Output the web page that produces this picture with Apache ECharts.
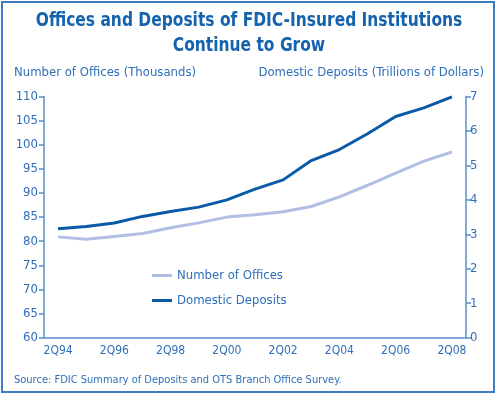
<!DOCTYPE html>
<html>
<head>
<meta charset="utf-8">
<script src="https://cdn.jsdelivr.net/npm/echarts@6.0.0/dist/echarts.min.js"></script>
<style>
  html, body { margin: 0; padding: 0; background: #fff; }
  #chart { width: 497px; height: 399px; }
</style>
</head>
<body>
<div id="chart"></div>
<script>
// 数据
const years = ['2Q94', '2Q95', '2Q96', '2Q97', '2Q98', '2Q99', '2Q00', '2Q01',
               '2Q02', '2Q03', '2Q04', '2Q05', '2Q06', '2Q07', '2Q08'];
const offices = [80.9, 80.4, 81.0, 81.6, 82.8, 83.8, 85.0, 85.5, 86.1, 87.2, 89.2, 91.6, 94.1, 96.6, 98.5];
const deposits = [3.16, 3.23, 3.33, 3.52, 3.66, 3.79, 4.00, 4.31, 4.58, 5.14, 5.46, 5.92, 6.42, 6.67, 6.99];

const font = '"DejaVu Sans Condensed", "Roboto", sans-serif';
const textColor = '#2f6fb8';
const axisColor = '#5a8fcb';

const chart = echarts.init(document.getElementById('chart'));
chart.setOption({
    backgroundColor: '#fff',
    textStyle: { fontFamily: font },
    legend: {
        orient: 'vertical', left: 147, top: 264,
        itemWidth: 20, itemHeight: 3, itemGap: 12, icon: 'rect',
        textStyle: { fontFamily: font, fontSize: 13, color: textColor },
        data: ['Number of Offices', 'Domestic Deposits']
    },
    grid: { left: 44, right: 31, top: 96.5, bottom: 61.3 },
    xAxis: {
        type: 'category', data: years, boundaryGap: true,
        axisLine: { lineStyle: { color: axisColor, width: 1.5 } },
        axisTick: { inside: true, length: 5, interval: 0, lineStyle: { color: axisColor, width: 1.5 } },
        axisLabel: { interval: 1, color: textColor, fontSize: 12, margin: 7, fontFamily: font }
    },
    yAxis: [{
        type: 'value', min: 60, max: 110, interval: 5,
        axisLine: { show: true, lineStyle: { color: axisColor, width: 1.5 } },
        axisTick: { show: true, length: 5, lineStyle: { color: axisColor, width: 1.5 } },
        axisLabel: { color: textColor, fontSize: 13, margin: 6, fontFamily: font },
        splitLine: { show: false }
    }, {
        type: 'value', min: 0, max: 7, interval: 1, position: 'right',
        axisLine: { show: true, lineStyle: { color: axisColor, width: 1.5 } },
        axisTick: { show: true, length: 5, lineStyle: { color: axisColor, width: 1.5 } },
        axisLabel: { color: textColor, fontSize: 13, margin: 4, fontFamily: font },
        splitLine: { show: false }
    }],
    series: [{
        name: 'Number of Offices', type: 'line', yAxisIndex: 0, data: offices,
        symbol: 'none', itemStyle: { color: '#b2bfe4' }, lineStyle: { width: 3, color: '#b2bfe4' }
    }, {
        name: 'Domestic Deposits', type: 'line', yAxisIndex: 1, data: deposits,
        symbol: 'none', itemStyle: { color: '#0b5aa8' }, lineStyle: { width: 3, color: '#0b5aa8' }
    }],
    graphic: [
        { type: 'rect', shape: { x: 2, y: 2, width: 492, height: 390 },
          style: { fill: 'none', stroke: '#3d7cc3', lineWidth: 2 }, silent: true },
        // 标题：字体较宽，横向压缩模拟窄体
        { type: 'text', x: 249, y: 8, scaleX: 0.86, originX: 0,
          style: { text: 'Offices and Deposits of FDIC-Insured Institutions\nContinue to Grow',
                   align: 'center', fontFamily: font, fontSize: 20, fontWeight: 'bold',
                   fill: '#1563ad', lineHeight: 25 } },
        { type: 'text', left: 14, top: 66,
          style: { text: 'Number of Offices (Thousands)', fontFamily: font, fontSize: 13, fill: textColor } },
        { type: 'text', right: 13, top: 66,
          style: { text: 'Domestic Deposits (Trillions of Dollars)', fontFamily: font, fontSize: 13, fill: textColor } },
        { type: 'text', left: 14, top: 375,
          style: { text: 'Source: FDIC Summary of Deposits and OTS Branch Office Survey.', fontFamily: font, fontSize: 11, fill: textColor } }
    ]
});
</script>
</body>
</html>
